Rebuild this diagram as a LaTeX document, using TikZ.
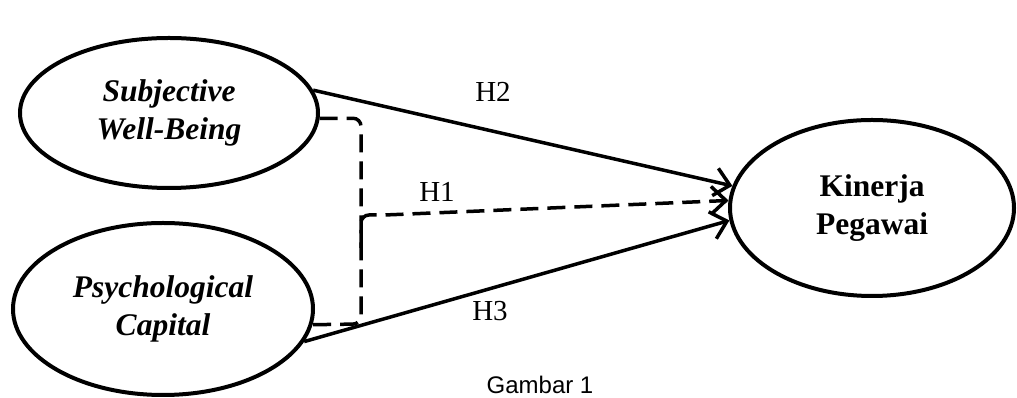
\documentclass[tikz,border=0pt]{standalone}
\usepackage{fontspec}
\setmainfont{Liberation Serif}
\newfontfamily\capfont{Liberation Sans}
\usetikzlibrary{shapes.geometric,arrows.meta}
\begin{document}
\begin{tikzpicture}[x=1pt,y=1pt,
  construct/.style={ellipse,draw,line width=4pt,inner sep=0pt,align=center,
    font=\fontsize{31.5}{38}\selectfont\bfseries},
  link/.style={line width=3.5pt,-{Straight Barb[length=15pt,width=28pt]}},
  dlink/.style={line width=3.5pt,dash pattern=on 18pt off 9pt},
  hlabel/.style={font=\fontsize{29}{32}\selectfont}]
\useasboundingbox (0,0) rectangle (1017,398);
\node[construct,minimum width=298pt,minimum height=150pt] (swb) at (169,285) {\itshape Subjective\\\itshape Well-Being};
\node[construct,minimum width=300pt,minimum height=172pt] (pc) at (163,89) {\itshape Psychological\\\itshape Capital};
\node[construct,minimum width=284pt,minimum height=176pt] (kp) at (872,190) {Kinerja\\Pegawai};
\coordinate (bc) at (361,74);
\coordinate (jb) at (361,150);
\coordinate (jt) at (361,183);
\draw[link] (swb.9) -- (kp.171);
\draw[link] (pc.347) -- (kp.185.5);
\draw[dlink,rounded corners=8pt] (swb.358) -| (bc) -- (pc.354.5);
\draw[dlink,rounded corners=8pt] (jb) |- ([xshift=24pt]jt) -- (kp.177);
\draw[line width=3.5pt,-{Straight Barb[length=15pt,width=28pt]}] ([xshift=-2pt]kp.177) -- (kp.177);
\node[hlabel] (h2) at (493,306) {H2};
\node[hlabel] (h1) at (437,206) {H1};
\node[hlabel] (h3) at (490,87) {H3};
\node[font=\capfont\fontsize{24}{26}\selectfont] (cap) at (540,13) {Gambar 1};
\end{tikzpicture}
\end{document}
